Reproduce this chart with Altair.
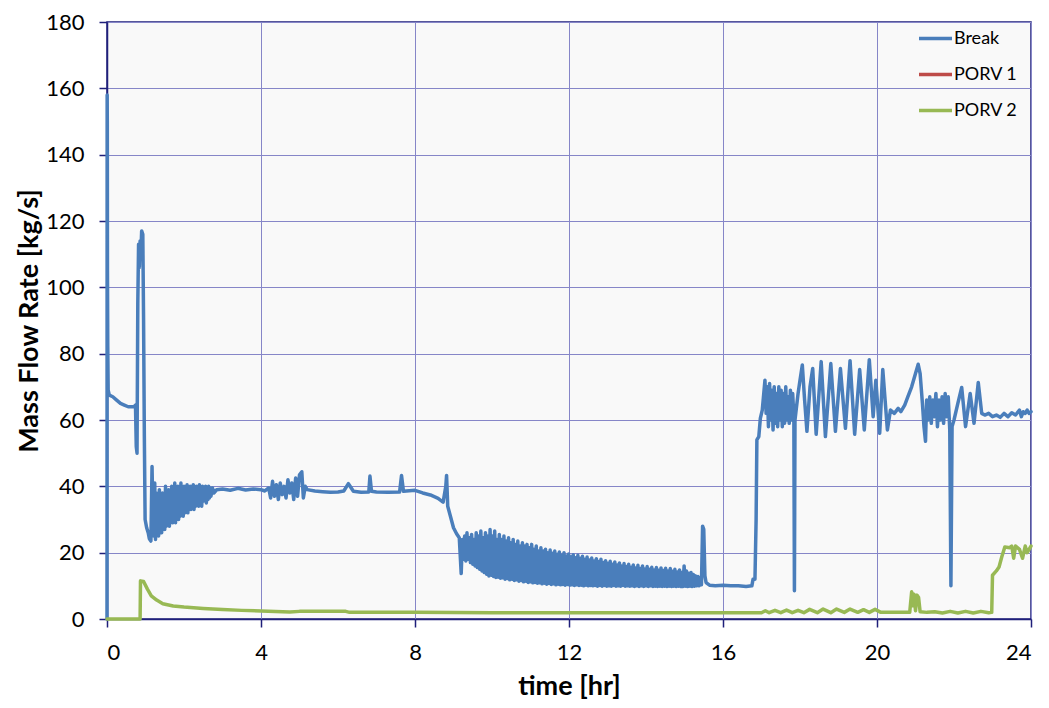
import altair as alt
import pandas as pd

# ---- Break series, (time [hr], mass flow [kg/s]) pairs ----
break_start = [
    (0.0, 0), (0.004, 158), (0.008, 150), (0.012, 105), (0.02, 82), (0.03, 69), (0.06, 67.5),
    (0.15, 67), (0.25, 66), (0.35, 65), (0.45, 64.5), (0.55, 64), (0.7, 64), (0.74, 64.5),
    (0.76, 52), (0.78, 50), (0.8, 95), (0.82, 113), (0.84, 106), (0.86, 114), (0.88, 110),
    (0.9, 117), (0.93, 116), (0.95, 90), (0.97, 55), (0.99, 30), (1.03, 27.5), (1.07, 26),
    (1.1, 24.2), (1.14, 23.5), (1.17, 46),
]
break_noise1 = [
    (1.20, 26), (1.22, 25), (1.24, 41), (1.26, 24), (1.28, 38), (1.30, 26), (1.32, 35),
    (1.34, 25), (1.36, 39), (1.38, 27), (1.40, 34), (1.42, 26), (1.44, 38), (1.46, 28),
    (1.48, 36), (1.50, 27), (1.52, 40), (1.54, 28), (1.56, 35), (1.58, 29), (1.60, 39),
    (1.62, 28), (1.64, 37), (1.66, 30), (1.68, 40), (1.70, 29), (1.72, 36), (1.74, 30),
    (1.76, 41), (1.78, 29), (1.80, 38), (1.82, 31), (1.84, 40), (1.86, 30), (1.88, 37),
    (1.90, 31), (1.92, 41), (1.94, 32), (1.96, 38), (1.98, 31), (2.00, 40), (2.02, 32),
    (2.04, 39), (2.06, 33), (2.08, 40.5), (2.10, 32), (2.12, 38), (2.14, 33), (2.16, 40),
    (2.18, 33), (2.20, 39), (2.22, 34), (2.24, 40.5), (2.26, 33), (2.28, 38.5), (2.30, 34),
    (2.32, 40), (2.34, 35), (2.36, 39), (2.38, 34), (2.40, 40.5), (2.42, 35), (2.44, 39),
    (2.46, 34), (2.48, 40), (2.50, 35.5), (2.52, 39.5), (2.54, 36), (2.56, 40), (2.58, 35),
    (2.60, 39.5), (2.62, 36), (2.64, 40), (2.66, 36.5), (2.68, 39.5), (2.70, 37),
    (2.74, 39.5), (2.78, 38), (2.85, 39),
]
break_plateau = [
    (3.0, 39.2), (3.2, 38.8), (3.4, 39.4), (3.6, 38.9), (3.8, 39.2), (4.0, 39), (4.1, 38.6),
    (4.2, 39.5), (4.25, 36.5), (4.3, 41.5), (4.35, 37), (4.4, 40.5), (4.45, 36), (4.5, 41),
    (4.55, 37.5), (4.6, 40), (4.65, 36.5), (4.7, 42), (4.75, 38), (4.8, 41), (4.85, 36),
    (4.9, 42.5), (4.95, 37), (5.0, 43.5), (5.06, 44.4), (5.1, 36.5), (5.15, 40), (5.2, 39),
    (5.4, 38.6), (5.6, 38.4), (5.8, 38.2), (6.0, 38.3), (6.15, 38.6), (6.27, 40.8),
    (6.4, 38.5), (6.6, 38.2), (6.8, 38.3), (6.83, 43.1), (6.87, 38.5), (7.0, 38.3),
    (7.3, 38.2), (7.6, 38.3), (7.65, 43.3), (7.7, 38.5), (8.0, 38.8), (8.2, 38),
    (8.4, 37.4), (8.6, 36.4), (8.73, 35.2), (8.8, 40), (8.82, 43.3), (8.85, 34), (8.92, 31),
    (9.0, 27.5), (9.08, 25.7), (9.15, 24.5),
]
break_band = [
    (9.20, 13.7), (9.23, 24), (9.26, 18), (9.29, 25), (9.32, 17.5), (9.35, 26), (9.38, 18),
    (9.41, 24.5), (9.44, 17), (9.47, 25.5), (9.50, 16.5), (9.53, 24), (9.56, 16), (9.59, 26),
    (9.62, 15.5), (9.65, 25), (9.68, 15), (9.71, 26.5), (9.74, 14.5), (9.77, 24.5),
    (9.80, 14), (9.83, 26), (9.86, 13.5), (9.89, 25), (9.92, 13), (9.95, 27), (9.98, 13.2),
    (10.01, 25), (10.04, 12.8), (10.07, 26.5), (10.10, 12.5), (10.13, 24), (10.16, 12.6),
    (10.19, 25.5), (10.22, 12.3), (10.25, 24), (10.28, 12.4), (10.31, 25), (10.34, 12),
    (10.37, 23.5), (10.40, 12.2), (10.43, 24.5), (10.46, 11.8), (10.49, 23), (10.52, 12),
    (10.55, 24), (10.58, 11.6), (10.61, 22.5), (10.64, 11.8), (10.67, 23.5), (10.70, 11.4),
    (10.73, 22), (10.76, 11.6), (10.79, 23), (10.82, 11.2), (10.85, 22), (10.88, 11.4),
    (10.91, 22.5), (10.94, 11), (10.97, 21.5), (11.00, 11.2), (11.03, 22.5), (11.06, 10.9),
    (11.09, 21), (11.12, 11), (11.15, 22), (11.18, 10.8), (11.21, 20.5), (11.24, 10.9),
    (11.27, 21.5), (11.30, 10.6), (11.33, 20.5), (11.36, 10.8), (11.39, 21), (11.42, 10.5),
    (11.45, 20), (11.48, 10.7), (11.51, 20.8), (11.54, 10.4), (11.57, 19.8), (11.60, 10.6),
    (11.63, 20.5), (11.66, 10.3), (11.69, 19.5), (11.72, 10.5), (11.75, 20.2), (11.78, 10.3),
    (11.81, 19.2), (11.84, 10.4), (11.87, 20), (11.90, 10.2), (11.93, 19), (11.96, 10.4),
    (11.99, 19.6), (12.02, 10.2), (12.05, 18.8), (12.08, 10.3), (12.11, 19.4), (12.14, 10.1),
    (12.17, 18.5), (12.20, 10.3), (12.23, 19.2), (12.26, 10.1), (12.29, 18.3), (12.32, 10.2),
    (12.35, 18.9), (12.38, 10), (12.41, 18), (12.44, 10.2), (12.47, 18.7), (12.50, 10),
    (12.53, 17.8), (12.56, 10.1), (12.59, 18.4), (12.62, 10), (12.65, 17.5), (12.68, 10.1),
    (12.71, 18.2), (12.74, 9.9), (12.77, 17.3), (12.80, 10.1), (12.83, 18), (12.86, 9.9),
    (12.89, 17), (12.92, 10.1), (12.95, 17.6), (12.98, 9.9), (13.01, 16.8), (13.04, 10),
    (13.07, 17.4), (13.10, 9.9), (13.13, 16.5), (13.16, 10.1), (13.19, 17.2), (13.22, 9.9),
    (13.25, 16.3), (13.28, 10), (13.31, 16.9), (13.34, 9.9), (13.37, 16), (13.40, 10.1),
    (13.43, 16.7), (13.46, 9.9), (13.49, 15.8), (13.52, 10), (13.55, 16.5), (13.58, 9.9),
    (13.61, 15.6), (13.64, 10), (13.67, 16.3), (13.70, 9.8), (13.73, 15.4), (13.76, 10),
    (13.79, 16.2), (13.82, 9.8), (13.85, 15.2), (13.88, 10), (13.91, 16), (13.94, 9.8),
    (13.97, 15.1), (14.00, 10), (14.03, 15.8), (14.06, 9.8), (14.09, 15), (14.12, 10),
    (14.15, 15.6), (14.18, 9.8), (14.21, 14.8), (14.24, 9.9), (14.27, 15.5), (14.30, 9.8),
    (14.33, 14.7), (14.36, 9.9), (14.39, 15.4), (14.42, 9.8), (14.45, 14.6), (14.48, 9.9),
    (14.51, 15.3), (14.54, 9.8), (14.57, 14.5), (14.60, 9.9), (14.63, 15.2), (14.66, 9.8),
    (14.69, 14.4), (14.72, 9.9), (14.75, 15), (14.78, 9.8), (14.81, 14.2), (14.84, 9.9),
    (14.87, 14.8), (14.90, 9.8), (14.93, 14), (14.96, 9.8), (14.99, 16), (15.02, 9.9),
    (15.05, 14.5), (15.08, 9.8), (15.11, 13.8), (15.14, 9.9), (15.17, 14), (15.20, 9.8),
    (15.23, 13.4), (15.26, 9.9), (15.29, 13), (15.32, 10), (15.35, 12.8), (15.38, 10),
    (15.41, 12.5), (15.44, 10.3),
]
break_recovery = [
    (15.47, 28), (15.5, 27), (15.53, 13), (15.56, 11), (15.65, 10.2), (15.8, 10), (16.0, 10.2),
    (16.2, 10), (16.4, 10), (16.6, 9.8), (16.75, 10), (16.78, 12), (16.83, 12), (16.86, 30),
    (16.88, 54), (16.93, 55), (16.97, 60.5), (17.02, 63), (17.09, 72), (17.12, 62),
    (17.15, 70), (17.18, 58), (17.21, 71), (17.24, 60), (17.27, 69), (17.30, 57), (17.33, 70),
    (17.36, 59), (17.39, 68), (17.42, 58), (17.45, 70), (17.48, 60), (17.51, 69), (17.54, 58),
    (17.57, 68), (17.60, 59), (17.63, 70), (17.66, 60), (17.69, 67), (17.72, 59), (17.75, 69),
    (17.78, 60), (17.81, 68), (17.84, 61), (17.855, 8.5), (17.87, 60), (17.95, 68), (18.0, 72),
    (18.06, 76.6), (18.12, 66), (18.18, 56.6), (18.26, 70), (18.33, 75.5), (18.42, 55.7),
    (18.55, 77.6), (18.66, 55), (18.8, 77), (18.92, 56.6), (19.05, 75.5), (19.18, 57.5),
    (19.3, 77.9), (19.42, 55.7), (19.55, 75.2), (19.67, 57), (19.8, 78.2), (19.9, 61),
    (19.97, 72), (20.07, 56), (20.15, 75.2), (20.27, 57), (20.35, 63), (20.45, 62),
    (20.55, 63.5), (20.62, 62.5), (20.72, 64.5), (20.8, 67), (20.9, 70), (21.0, 74),
    (21.07, 76.8), (21.12, 74), (21.18, 65), (21.22, 58), (21.26, 53.6), (21.29, 66),
    (21.33, 60), (21.37, 67), (21.41, 59), (21.45, 66), (21.49, 61), (21.53, 68), (21.57, 58),
    (21.61, 66), (21.65, 60), (21.69, 67), (21.73, 59), (21.77, 68), (21.81, 61), (21.85, 67),
    (21.89, 57), (21.92, 10), (21.95, 58), (22.0, 60), (22.1, 65), (22.2, 69.8), (22.3, 58),
    (22.42, 68), (22.52, 59), (22.63, 71.3), (22.72, 62), (22.8, 61.5), (22.9, 62), (23.0, 61),
    (23.1, 61.5), (23.2, 60.8), (23.3, 62), (23.4, 61), (23.5, 62.2), (23.6, 61.5), (23.7, 63),
    (23.75, 61), (23.8, 62.5), (23.85, 62), (23.9, 63), (23.95, 62), (24.0, 62.5),
]

# ---- PORV 2 series ----
porv2_points = [
    (0.0, 0), (0.86, 0), (0.87, 11.5), (0.95, 11.3), (1.05, 9), (1.15, 7), (1.29, 5.7),
    (1.45, 4.6), (1.72, 3.9), (2.0, 3.6), (2.5, 3.2), (3.0, 2.9), (3.5, 2.6), (4.0, 2.4),
    (4.75, 2.1), (5.0, 2.3), (6.2, 2.3), (6.3, 2.0), (8.0, 2.0), (10.0, 1.9), (12.0, 1.9),
    (14.0, 1.9), (16.0, 1.9), (17.0, 1.9), (17.1, 2.5), (17.2, 1.9), (17.35, 2.6), (17.5, 1.9),
    (17.65, 2.7), (17.8, 1.9), (17.95, 2.6), (18.1, 1.9), (18.25, 2.9), (18.45, 1.9),
    (18.6, 3.0), (18.8, 1.9), (18.95, 3.0), (19.15, 2.0), (19.3, 3.0), (19.5, 2.0),
    (19.65, 2.8), (19.8, 2.0), (19.95, 2.9), (20.1, 2.0), (20.3, 2.0), (20.6, 2.0),
    (20.85, 2.0), (20.9, 8.2), (20.93, 4), (20.96, 7.5), (21.0, 2.5), (21.04, 7.2),
    (21.08, 6.5), (21.12, 2.2), (21.3, 2.0), (21.5, 2.2), (21.7, 1.8), (21.9, 2.3), (22.1, 1.8),
    (22.3, 2.3), (22.5, 1.8), (22.7, 2.3), (22.9, 1.9), (22.98, 2.0), (23.0, 13.2),
    (23.1, 14.5), (23.17, 15.7), (23.24, 18.7), (23.32, 21.7), (23.45, 21.5), (23.5, 22),
    (23.55, 18.3), (23.6, 22), (23.7, 21), (23.78, 18.3), (23.85, 22), (23.9, 20), (24.0, 22),
]

series_names = ["Break", "PORV 1", "PORV 2"]
series_colors = ["#4a7ebb", "#be4b48", "#98b954"]
x_ticks = [0, 4, 8, 12, 16, 20, 24]
y_ticks = [0, 20, 40, 60, 80, 100, 120, 140, 160, 180]

break_points = break_start + break_noise1 + break_plateau + break_band + break_recovery


def frame(points, name):
    return pd.DataFrame({
        "time": [p[0] for p in points],
        "flow": [p[1] for p in points],
        "series": name,
        "order": list(range(len(points))),
    })


df = pd.concat([frame(break_points, "Break"), frame(porv2_points, "PORV 2")], ignore_index=True)

FONT = "Lato"
AXIS_COLOR = "#1f1f7a"
GRID_COLOR = "#8686c8"

chart = alt.Chart(df).mark_line(strokeWidth=3.5, strokeJoin="round", strokeCap="round").encode(
    x=alt.X("time:Q",
            scale=alt.Scale(domain=[0, 24], nice=False, zero=False),
            axis=alt.Axis(values=x_ticks, title="time [hr]", format="d",
                          titleX=462, titleY=67, titleBaseline="middle", titleAlign="center",
                          labelPadding=15)),
    y=alt.Y("flow:Q",
            scale=alt.Scale(domain=[0, 180], nice=False),
            axis=alt.Axis(values=y_ticks, title="Mass Flow Rate [kg/s]", format="d",
                          titleX=-78, titleY=298.5, titleAngle=270, titleBaseline="middle",
                          titleAlign="center", labelPadding=15)),
    color=alt.Color("series:N",
                    scale=alt.Scale(domain=series_names, range=series_colors),
                    legend=alt.Legend(title=None, orient="none", legendX=810, legendY=-2,
                                      symbolType="stroke", symbolSize=1089,
                                      symbolStrokeWidth=3.5, labelFontSize=18,
                                      labelFont=FONT, labelColor="#000000",
                                      rowPadding=8, labelOffset=0, padding=0)),
    order="order:Q",
    detail="series:N",
).properties(
    width=924, height=597,
    autosize=alt.AutoSizeParams(type="none"),
    padding={"left": 99, "top": 14, "right": 10, "bottom": 81},
).configure(
    font=FONT,
).configure_view(
    fill="#f9f9f9", stroke=AXIS_COLOR, strokeWidth=1.5,
).configure_axis(
    grid=True, gridColor=GRID_COLOR, gridWidth=1, gridOpacity=1,
    domainColor=AXIS_COLOR, domainWidth=1.5,
    tickColor=AXIS_COLOR, tickSize=8, tickWidth=1.5,
    labelFont=FONT, labelFontSize=22, labelColor="#000000",
    titleFont=FONT, titleFontSize=27, titleFontWeight="bold", titleColor="#000000",
)

chart.save("out.html", embed_options={"renderer": "svg", "actions": False})
